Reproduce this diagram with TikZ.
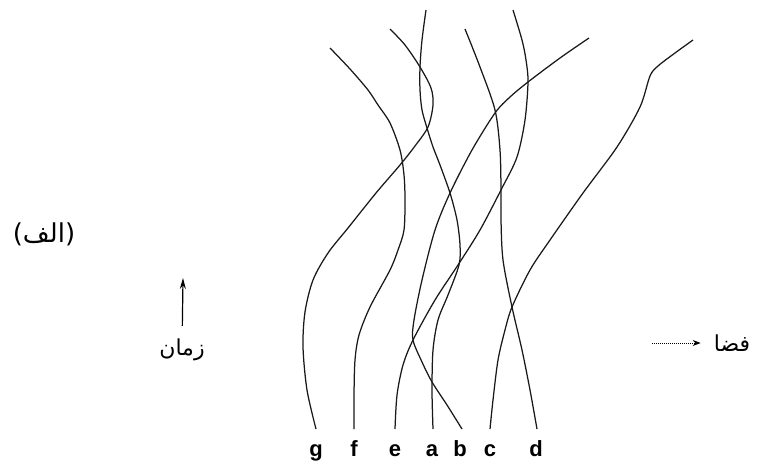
\documentclass[tikz,border=0pt]{standalone}
\usepackage{fontspec}
\newfontfamily\labelfont{Liberation Sans}
\newfontfamily\arabicfont[Script=Arabic]{DejaVu Sans}
\TeXXeTstate=1
\usetikzlibrary{arrows.meta}

\begin{document}
\begin{tikzpicture}[x=1pt, y=-1pt,
    worldline/.style={line width=1.25pt, black!90},
    lbl/.style={font=\labelfont\bfseries\fontsize{22}{26}\selectfont, inner sep=0pt, anchor=base},
    fa/.style={font=\arabicfont\fontsize{22}{26}\selectfont, inner sep=1pt}]
    \useasboundingbox (0,0) rectangle (757,463);

    % world lines
    \draw[worldline] plot[smooth] coordinates {(390,29) (405,45) (420,67) (431,88) (433,105) (428,127) (415,146) (400,165) (376,193) (348,228) (328,253) (313,280) (305,312) (303,347) (307,390) (316,429)};
    \draw[worldline] plot[smooth] coordinates {(330,48) (350,69) (368,90) (378,105) (390,123) (400,150) (404,175) (405,200) (404,230) (398,250) (390,270) (370,307) (359,335) (355,360) (354,395) (354,429)};
    \draw[worldline] plot[smooth] coordinates {(513,10) (522,40) (526,60) (528,82) (525,120) (517,157) (502,188) (480,230) (458,265) (435,300) (413,340) (403,365) (397,395) (395,429)};
    \draw[worldline] plot[smooth] coordinates {(426,10) (422,40) (420,67) (420,90) (422,110) (427,128) (433,147) (440,165) (450,193) (457,220) (460,245) (459,265) (448,295) (438,320) (433,350) (432,390) (433,429)};
    \draw[worldline] plot[smooth] coordinates {(589,38) (560,58) (528,82) (510,97) (495,113) (472,150) (450,193) (435,230) (422,280) (414,320) (413,340) (422,362) (432,382) (447,405) (462,429)};
    \draw[worldline] plot[smooth] coordinates {(490,429) (493,400) (498,360) (505,330) (512,307) (530,270) (550,240) (583,193) (617,147) (640,107) (650,76) (658,66) (675,53) (693,40)};
    \draw[worldline] plot[smooth] coordinates {(465,29) (480,67) (495,110) (500,150) (501,190) (501,220) (503,260) (512,307) (522,350) (530,390) (537,429)};

    % labels
    \node[lbl] (g) at (316,456) {g};
    \node[lbl] (f) at (354,456) {f};
    \node[lbl] (e) at (395,456) {e};
    \node[lbl] (a) at (432,456) {a};
    \node[lbl] (b) at (460,456) {b};
    \node[lbl] (c) at (490,456) {c};
    \node[lbl] (d) at (536,456) {d};

    \node[fa, font=\arabicfont\fontsize{26}{30}\selectfont] (alef) at (44,234) {\beginR(الف)\endR};

    \node[fa] (time) at (182,350) {\beginR زمان\endR};
    \coordinate (timetip) at (183,278);
    \draw[-{Stealth[length=11pt,width=6pt]}, line width=1.2pt, shorten <=12pt] (time) -- (timetip);

    \node[fa] (space) at (732,343) {\beginR فضا\endR};
    \coordinate (spacetail) at (652,343);
    \draw[densely dotted, line width=1pt, -{Stealth[length=8pt,width=6pt]}, shorten >=12pt] (spacetail) -- (space);
\end{tikzpicture}
\end{document}
